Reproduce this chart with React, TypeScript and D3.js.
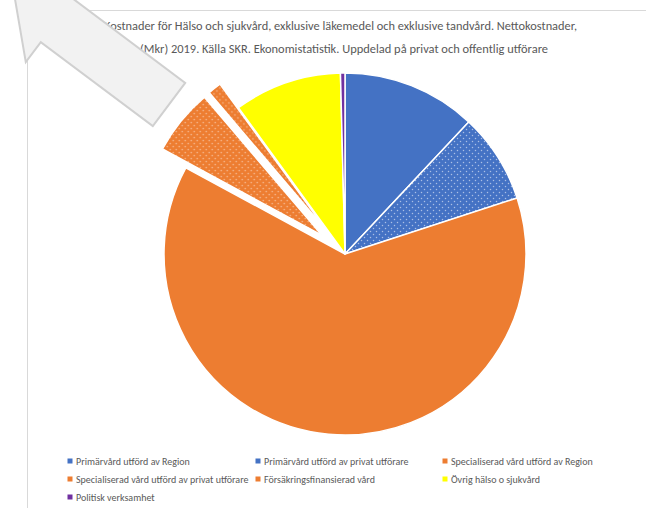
import React from "react";
import * as d3 from "d3";

const categories = [
  "Primärvård utförd av Region",
  "Primärvård utförd av privat utförare",
  "Specialiserad vård utförd av Region",
  "Specialiserad vård utförd av privat utförare",
  "Försäkringsfinansierad vård",
  "Övrig hälso o sjukvård",
  "Politisk verksamhet",
];
const values = [29900, 20000, 157000, 14700, 3000, 24000, 1000];
const colors = ["#4472C4", "#4472C4", "#ED7D31", "#ED7D31", "#ED7D31", "#FFFF00", "#7030A0"];
const dotted = [false, true, false, true, true, false, false];
const exploded = [false, false, false, true, true, false, false];
const titleLines = [
  "Kostnader för Hälso och sjukvård, exklusive läkemedel och exklusive tandvård. Nettokostnader,",
  "(Mkr) 2019. Källa SKR. Ekonomistatistik. Uppdelad på privat och offentlig utförare",
];

const W = 646;
const H = 508;
const cx = 345;
const cy = 254;
const R = 181;
const explodeDist = 30;

export default function App() {
  const pie = d3.pie<number>().sort(null).startAngle(0).endAngle(2 * Math.PI);
  const arcs = pie(values);
  const arcGen = d3.arc<d3.PieArcDatum<number>>().innerRadius(0).outerRadius(R);

  const legendCols = [70, 258, 445];
  const legendRows = [461, 479, 497];

  const L = 195, h = 55, w = 27, Wd = 52;
  const arrowPts: [number, number][] = [
    [0, 0], [h, -Wd], [h, -w], [L, -w], [L, w], [h, w], [h, Wd],
  ];
  const arrowPath = d3.line()(arrowPts) + "Z";

  return (
    <svg width={W} height={H} style={{ position: "absolute", left: 0, top: 0, fontFamily: "Carlito, 'Liberation Sans', sans-serif" }}>
      <defs>
        {colors.map((c, i) =>
          dotted[i] ? (
            <pattern key={i} id={`dots${i}`} width={6} height={6} patternUnits="userSpaceOnUse">
              <rect width={6} height={6} fill={c} />
              <circle cx={1.5} cy={1.5} r={0.75} fill="#ffffff" opacity={0.55} />
              <circle cx={4.5} cy={4.5} r={0.75} fill="#ffffff" opacity={0.55} />
            </pattern>
          ) : null
        )}
      </defs>
      <rect x={0} y={0} width={W} height={H} fill="#ffffff" />
      <rect x={27.5} y={10.5} width={W} height={H} fill="none" stroke="#d9d9d9" strokeWidth={1} />

      {titleLines.map((t, i) => (
        <text
          key={i}
          x={i === 0 ? 104 : 140}
          y={i === 0 ? 30 : 53}
          fontSize={12}
          fill="#595959"
          textLength={i === 0 ? 473 : 408}
          lengthAdjust="spacingAndGlyphs"
        >
          {t}
        </text>
      ))}

      <g transform={`translate(${cx},${cy})`}>
        {arcs.map((a, i) => {
          const mid = (a.startAngle + a.endAngle) / 2;
          const d = exploded[i] ? explodeDist : 0;
          const dx = Math.sin(mid) * d;
          const dy = -Math.cos(mid) * d;
          return (
            <path
              key={i}
              d={arcGen(a) || ""}
              transform={`translate(${dx},${dy})`}
              fill={dotted[i] ? `url(#dots${i})` : colors[i]}
              stroke="#ffffff"
              strokeWidth={1.5}
              strokeLinejoin="round"
            />
          );
        })}
      </g>

      <g fontSize={10} fill="#595959">
        {categories.map((c, i) => {
          const col = i % 3;
          const row = Math.floor(i / 3);
          const x = legendCols[col];
          const y = legendRows[row];
          return (
            <g key={i}>
              <rect x={x - 2.5} y={y - 2.5} width={5} height={5} fill={colors[i]} />
              <text x={x + 6} y={y + 3.5}>{c}</text>
            </g>
          );
        })}
      </g>

      <path
        d={arrowPath}
        transform="translate(13,-12.5) rotate(36.87)"
        fill="#f2f2f2"
        stroke="#d0d0d0"
        strokeWidth={2}
        strokeLinejoin="miter"
      />
    </svg>
  );
}
